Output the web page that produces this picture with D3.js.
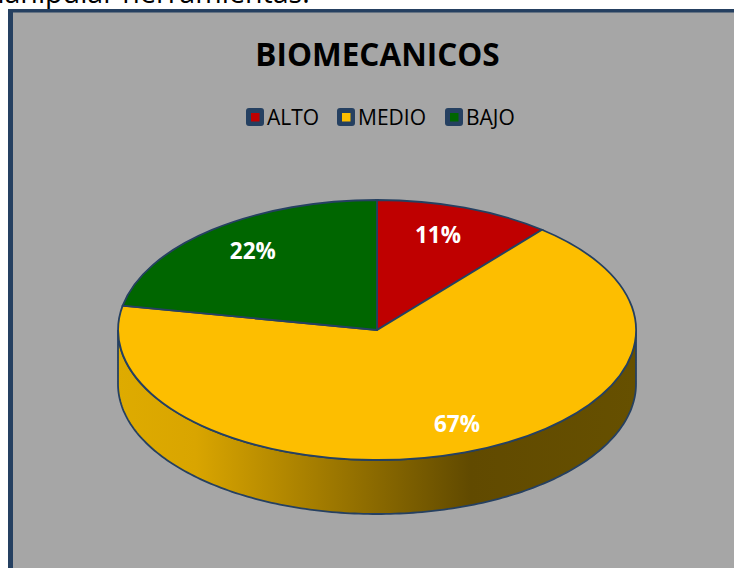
<!DOCTYPE html>
<html>
<head>
<meta charset="utf-8">
<script src="https://cdn.jsdelivr.net/npm/d3@7"></script>
<style>
  html, body { margin: 0; padding: 0; background: #fff; overflow: hidden; }
  text { font-family: "Open Sans", sans-serif; }
</style>
</head>
<body>
<div id="chart"></div>
<script>
var categories = ["ALTO", "MEDIO", "BAJO"];
var values = [11, 67, 22];
var colors = ["#bf0000", "#fdbe00", "#006600"];
var titulo = "BIOMECANICOS";
var textoArriba = "manipular herramientas.";

var w = 734, h = 568,
    cx = 377, cy = 330,
    rx = 259, ry = 130,
    depth = 54,
    azul = "#254061";

var svg = d3.select("#chart").append("svg")
    .attr("width", w)
    .attr("height", h)
    .style("display", "block");

// texto del documento, cortado por el marco
svg.append("text")
    .attr("x", -22)
    .attr("y", 3)
    .attr("font-size", 28.6)
    .attr("fill", "#000")
    .text(textoArriba);

// marco: mas grueso a la izquierda que arriba
svg.append("rect")
    .attr("x", 8)
    .attr("y", 9)
    .attr("width", w)
    .attr("height", h)
    .attr("fill", azul);

svg.append("rect")
    .attr("x", 13)
    .attr("y", 12.5)
    .attr("width", w)
    .attr("height", h)
    .attr("fill", "#a6a6a6");

svg.append("text")
    .attr("x", 377.5)
    .attr("y", 66)
    .attr("text-anchor", "middle")
    .attr("font-size", 31.5)
    .attr("font-weight", 700)
    .attr("fill", "#000")
    .text(titulo);

// leyenda
var legendX = d3.scaleOrdinal().domain(categories).range([246, 337, 445]);
var legend = svg.selectAll("g.legend")
    .data(categories)
  .enter().append("g")
    .attr("class", "legend")
    .attr("transform", function(d) { return "translate(" + legendX(d) + ",108)"; });

legend.append("rect")
    .attr("width", 18)
    .attr("height", 18)
    .attr("rx", 3)
    .attr("fill", azul);

legend.append("rect")
    .attr("x", 5)
    .attr("y", 5)
    .attr("width", 8.5)
    .attr("height", 8.5)
    .attr("fill", function(d, i) { return colors[i]; });

legend.append("text")
    .attr("x", 21)
    .attr("y", 17)
    .attr("font-size", 21)
    .attr("fill", "#000")
    .text(function(d) { return d; });

// degradado del canto
var defs = svg.append("defs");
var grad = defs.append("linearGradient")
    .attr("id", "canto")
    .attr("gradientUnits", "userSpaceOnUse")
    .attr("x1", cx - rx).attr("x2", cx + rx)
    .attr("y1", 0).attr("y2", 0);
grad.append("stop").attr("offset", "0").attr("stop-color", "#deab00");
grad.append("stop").attr("offset", "0.15").attr("stop-color", "#d9a500");
grad.append("stop").attr("offset", "0.68").attr("stop-color", "#614a00");
grad.append("stop").attr("offset", "1").attr("stop-color", "#665000");

var pie = d3.pie().sort(null).startAngle(0).endAngle(2 * Math.PI);
var arcs = pie(values);

var angulos = d3.range(0, 181).map(function(d) { return Math.PI / 2 + d * Math.PI / 180; });
var sx = d3.scaleLinear().domain([-1, 1]).range([cx - rx, cx + rx]);
var sy = d3.scaleLinear().domain([-1, 1]).range([cy - ry, cy + ry]);

// canto inferior: borde de abajo y vuelta por el borde de arriba
var canto = d3.line()
    .x(function(a) { return sx(Math.sin(a)); })
    .y(function(a) { return sy(-Math.cos(a)) + depth; });
var cantoArriba = d3.line()
    .x(function(a) { return sx(Math.sin(a)); })
    .y(function(a) { return sy(-Math.cos(a)); });

svg.append("path")
    .attr("d", canto(angulos) + "L" + cantoArriba(angulos.slice().reverse()).slice(1) + "Z")
    .attr("fill", "url(#canto)")
    .attr("stroke", azul)
    .attr("stroke-width", 1.8);

// cara superior
var arc = d3.arc().innerRadius(0).outerRadius(1);
svg.append("g")
    .attr("transform", "translate(" + cx + "," + cy + ") scale(" + rx + "," + ry + ")")
  .selectAll("path")
    .data(arcs)
  .enter().append("path")
    .attr("d", arc)
    .attr("fill", function(d, i) { return colors[i]; })
    .attr("stroke", azul)
    .attr("stroke-width", 1.8)
    .attr("vector-effect", "non-scaling-stroke");

// etiquetas, con un ajuste a mano por porcion
var etiquetaR = 0.74;
var ajusteX = [-4, 15, -2];
var ajusteY = [-4, 3, -5];
svg.selectAll("text.pct")
    .data(arcs)
  .enter().append("text")
    .attr("class", "pct")
    .attr("x", function(d, i) { return sx(Math.sin((d.startAngle + d.endAngle) / 2) * etiquetaR) + ajusteX[i]; })
    .attr("y", function(d, i) { return sy(-Math.cos((d.startAngle + d.endAngle) / 2) * etiquetaR) + 8 + ajusteY[i]; })
    .attr("text-anchor", "middle")
    .attr("font-size", 22.5)
    .attr("font-weight", 700)
    .attr("fill", "#fff")
    .text(function(d) { return d.value + "%"; });
</script>
</body>
</html>
